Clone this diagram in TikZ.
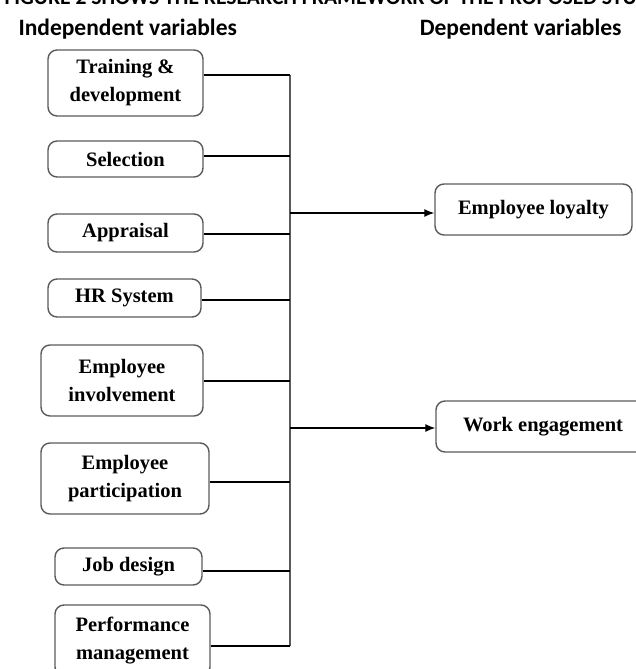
\documentclass[tikz,border=0pt]{standalone}
\usepackage{fontspec}
\setmainfont{Liberation Serif}
\newfontfamily\headfont{Carlito}
\usetikzlibrary{arrows.meta}
\definecolor{boxgray}{RGB}{90,90,90}
\tikzset{
  varbox/.style={draw=boxgray, line width=1.4pt, rounded corners=9pt, inner sep=0pt,
    align=center, font=\fontsize{20.5}{28}\selectfont\bfseries},
  link/.style={line width=1.3pt},
  bus/.style={draw=boxgray, line width=1.8pt},
  head/.style={anchor=base west, font=\headfont\bfseries\fontsize{23.5}{26}\selectfont}
}
\begin{document}
\begin{tikzpicture}[x=1pt,y=-1pt]
\useasboundingbox (0,0) rectangle (636,669);

\node[head, font=\headfont\bfseries\fontsize{21.6}{24}\selectfont] (cTitle) at (1,5)
  {FIGURE 2 SHOWS THE RESEARCH FRAMEWORK OF THE PROPOSED STUDY};
\node[head] (cIndep) at (15,36) {Independent variables};
\node[head, anchor=base east] (cDep) at (625,36) {Dependent variables};

% independent variables
\node[varbox, minimum width=155pt, minimum height=66pt] (cTrain) at (125.5,83) {Training \&\\development};
\node[varbox, minimum width=155pt, minimum height=36pt] (cSel) at (125.5,159) {Selection};
\node[varbox, minimum width=155pt, minimum height=38pt] (cAppr) at (125.5,233) {Appraisal};
\node[varbox, minimum width=153pt, minimum height=38pt] (cHR) at (124.5,298) {HR System};
\node[varbox, minimum width=162pt, minimum height=71pt] (cInvol) at (122,380.5) {Employee\\involvement};
\node[varbox, minimum width=168pt, minimum height=71pt] (cPart) at (125,478.5) {Employee\\participation};
\node[varbox, minimum width=147pt, minimum height=37pt] (cJob) at (128.5,566.5) {Job design};
\node[varbox, minimum width=155pt, minimum height=71pt] (cPerf) at (132.5,640.5) {Performance\\management};

% dependent variables
\node[varbox, minimum width=197pt, minimum height=51pt] (cLoyal) at (533.5,209.5) {Employee loyalty};
\node[varbox, minimum width=214pt, minimum height=51pt] (cWork) at (543,426.5) {Work engagement};

\coordinate (cBusTop) at (290,75);
\coordinate (cBusBot) at (290,646);
\draw[bus] (cBusTop) -- (cBusBot);

\foreach \v/\y in
{cTrain/75, cSel/156, cAppr/234, cHR/300,
    cInvol/381, cPart/482, cJob/571, cPerf/646
}
{
    \coordinate (\v-j) at (290,\y);
    \draw[link] (\v.east |- \v-j) -- (\v-j);
};

\foreach \v/\y in {cLoyal/213, cWork/428}
{
    \coordinate (\v-j) at (290,\y);
    \draw[link,-{Latex[length=10pt,width=8pt]}] (\v-j) -- (\v-j -| \v.west);
};

\end{tikzpicture}
\end{document}
